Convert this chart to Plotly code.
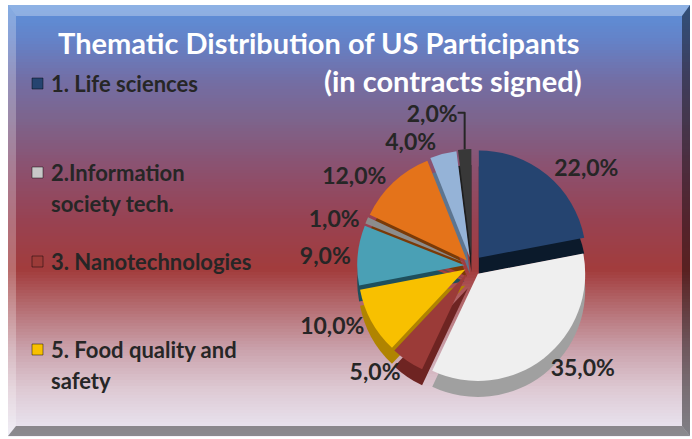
import plotly.graph_objects as go

W, H = 692, 439

# ---- data ----
categories = ["1. Life sciences", "2.Information society tech.", "3. Nanotechnologies",
              "5. Food quality and safety", "6. Sustainable development",
              "7. Citizens and governance", "Mobility", "SMEs", "Other"]
shares = [22, 35, 5, 10, 9, 1, 12, 4, 2]
top_colors = ["#254470", "#efefef", "#9b3b38", "#f8c000", "#4aa0b5",
              "#8c8c8c", "#e4731a", "#95b3d7", "#383838"]
side_colors = ["#0b1a2b", "#a0a0a0", "#6e2422", "#b08400", "#1e4f5c",
               "#505050", "#7a3a08", "#5d7590", "#1e1e1e"]
pulls = [0.10, 0.09, 0.07, 0.07, 0.07, 0.07, 0.07, 0.08, 0.09]
legend_labels = ["1. Life sciences", "2.Information\nsociety tech.",
                 "3. Nanotechnologies", "5. Food quality and\nsafety"]
legend_marker_colors = ["#254470", "#c8c8c8", "#9b3b38", "#f8c000"]
title_lines = ["Thematic Distribution of US Participants", "(in contracts signed)"]

FONT = "Lato"


def px(x):
    return x / W


def py(y):
    return 1 - y / H


shapes = []
# gradient background (top blue -> red -> pale lavender)
stops = [(5, (92, 145, 218)), (40, (100, 130, 200)), (80, (115, 110, 165)),
         (120, (125, 100, 140)), (170, (140, 80, 110)), (220, (152, 66, 82)),
         (270, (162, 60, 60)), (310, (182, 112, 117)), (350, (202, 162, 172)),
         (390, (222, 202, 212)), (436, (234, 232, 244))]


def col_at(y):
    for (y0, c0), (y1, c1) in zip(stops[:-1], stops[1:]):
        if y0 <= y <= y1:
            t = (y - y0) / (y1 - y0)
            return "rgb(%d,%d,%d)" % tuple(round(a + (b - a) * t) for a, b in zip(c0, c1))
    return "rgb(%d,%d,%d)" % stops[-1][1]


step = 3
y = 5
while y < 436:
    y2 = min(y + step, 436)
    shapes.append(dict(type="rect", xref="paper", yref="paper", layer="below",
                       x0=px(8), x1=px(690), y0=py(y2 + 0.5), y1=py(y),
                       fillcolor=col_at(y + step / 2), line_width=0))
    y = y2


def path(pts):
    return "M " + " L ".join("%f,%f" % (px(a), py(b)) for a, b in pts) + " Z"


bevels = [
    ([(8, 5), (690, 5), (682, 16), (16, 16)], "rgba(255,255,255,0.30)"),
    ([(8, 5), (16, 16), (16, 426), (8, 436)], "rgba(255,255,255,0.25)"),
    ([(690, 5), (690, 436), (682, 426), (682, 16)], "rgba(0,0,0,0.45)"),
    ([(8, 436), (16, 426), (682, 426), (690, 436)], "rgba(60,60,60,0.55)"),
]
for pts, c in bevels:
    shapes.append(dict(type="path", xref="paper", yref="paper", layer="below",
                       path=path(pts), fillcolor=c, line_width=0))

# ---- pie geometry ----
cx, cy, dia = 472, 266, 236
depth = 16
dom_x = [px(cx - dia / 2), px(cx + dia / 2)]
dom_top = [py(cy + dia / 2), py(cy - dia / 2)]
dom_side = [py(cy + depth + dia / 2), py(cy + depth - dia / 2)]

fig = go.Figure()
fig.add_trace(go.Pie(labels=categories, values=shares, sort=False, direction="clockwise",
                     rotation=0, pull=pulls, domain=dict(x=dom_x, y=dom_side),
                     marker=dict(colors=side_colors, line=dict(width=0)),
                     textinfo="none", hoverinfo="skip", showlegend=False))
fig.add_trace(go.Pie(labels=categories, values=shares, sort=False, direction="clockwise",
                     rotation=0, pull=pulls, domain=dict(x=dom_x, y=dom_top),
                     marker=dict(colors=top_colors, line=dict(width=0)),
                     texttemplate="<b>%{percent:.1%}</b>", textposition="outside",
                     outsidetextfont=dict(family=FONT, size=23, color="#262626"),
                     showlegend=False))

annotations = []
annotations.append(dict(text="<b>%s</b>" % title_lines[0], x=px(582), y=py(42),
                        xref="paper", yref="paper", xanchor="right", yanchor="middle",
                        showarrow=False, font=dict(family=FONT, size=29, color="white")))
annotations.append(dict(text="<b>%s</b>" % title_lines[1], x=px(584), y=py(80),
                        xref="paper", yref="paper", xanchor="right", yanchor="middle",
                        showarrow=False, font=dict(family=FONT, size=29, color="white")))

# manual legend (first four categories)
legend_y = [83, 172, 261, 349]
for lab, c, ly in zip(legend_labels, legend_marker_colors, legend_y):
    shapes.append(dict(type="rect", xref="paper", yref="paper",
                       x0=px(32), x1=px(43), y0=py(ly + 6), y1=py(ly - 5),
                       fillcolor=c, line=dict(color="rgba(0,0,0,0.45)", width=1)))
    for i, line in enumerate(lab.split("\n")):
        annotations.append(dict(text="<b>%s</b>" % line, x=px(49), y=py(ly + 31 * i),
                                xref="paper", yref="paper", xanchor="left",
                                yanchor="middle", showarrow=False,
                                font=dict(family=FONT, size=22, color="#262626")))

fig.update_layout(width=W, height=H, margin=dict(l=0, r=0, t=0, b=0),
                  paper_bgcolor="white", plot_bgcolor="white",
                  separators=",.", showlegend=False,
                  shapes=shapes, annotations=annotations)

fig.write_html("out.html", config={"displayModeBar": False},
               post_script="document.body.style.margin='0';")
